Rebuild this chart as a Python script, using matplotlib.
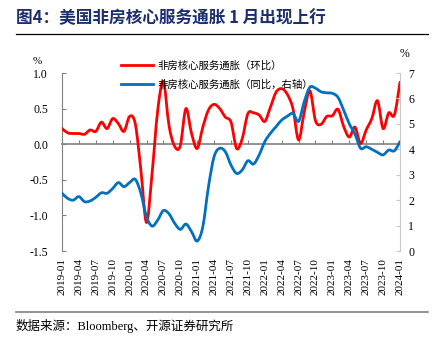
#!/usr/bin/env python3
"""US non-housing core services inflation: MoM (left) vs YoY (right)."""
import matplotlib
matplotlib.use("Agg")
import matplotlib.pyplot as plt
from matplotlib.path import Path
from matplotlib.patches import PathPatch
from matplotlib.lines import Line2D
import numpy as np
import pandas as pd

RED = "#ff0000"
BLUE = "#0070c0"
NAVY = "#1c2f6b"
CJK = ["Noto Sans CJK SC", "DejaVu Sans"]
SERIF = ["Liberation Serif", "Noto Sans CJK SC"]

months = pd.date_range("2019-01-01", "2024-01-01", freq="MS")
month_labels = [d.strftime("%Y-%m") for d in months]

# 环比, %
mom = [0.22, 0.16, 0.15, 0.15, 0.14, 0.20, 0.18, 0.31, 0.22, 0.36,
       0.29, 0.18, 0.39, 0.29, -0.36, -1.10, -0.40, 0.48, 0.88, 0.26,
       -0.03, -0.02, 0.50, 0.15, -0.06, 0.24, 0.48, 0.56, 0.50, 0.38,
       0.31, -0.06, 0.08, 0.43, 0.44, 0.41, 0.32, 0.52, 0.73, 0.78,
       0.70, 0.50, 0.06, 0.45, 0.75, 0.33, 0.28, 0.39, 0.40, 0.49,
       0.25, 0.10, 0.24, 0.01, 0.20, 0.36, 0.61, 0.22, 0.44, 0.41,
       0.87]

# 同比, %
yoy = [2.27, 2.07, 2.00, 2.14, 1.94, 1.97, 2.11, 2.29, 2.27, 2.46,
       2.69, 2.53, 2.69, 2.82, 2.27, 1.35, 0.98, 1.22, 1.59, 1.46,
       1.09, 0.85, 1.06, 0.76, 0.39, 0.96, 2.53, 3.71, 4.04, 3.90,
       3.38, 3.05, 3.19, 3.55, 3.42, 3.78, 4.30, 4.63, 4.89, 5.15,
       5.30, 5.41, 5.10, 5.87, 6.44, 6.40, 6.26, 6.22, 6.20, 6.04,
       5.54, 5.00, 4.60, 4.04, 4.10, 4.00, 3.88, 3.78, 3.97, 3.94,
       4.30]

plt.rcParams.update({"font.family": SERIF, "font.size": 8})


def smooth_path(xs, ys):
    """Cubic Bezier through every point (Catmull-Rom handles)."""
    pts = np.column_stack([xs, ys]).astype(float)
    n = len(pts)
    verts, codes = [pts[0]], [Path.MOVETO]
    for k in range(n - 1):
        p0, p1 = pts[max(k - 1, 0)], pts[k]
        p2, p3 = pts[k + 1], pts[min(k + 2, n - 1)]
        verts += [p1 + (p2 - p0) / 6, p2 - (p3 - p1) / 6, p2]
        codes += [Path.CURVE4] * 3
    return Path(verts, codes)


x = np.arange(len(months))

fig = plt.figure(figsize=(4.37, 3.39), dpi=100)
ax = fig.add_axes([62 / 437, 1 - 251 / 339, 338 / 437, 178 / 339])
ax2 = ax.twinx()

ax.add_patch(PathPatch(smooth_path(x, mom), fill=False, edgecolor=RED,
                       lw=2.0, capstyle="round", joinstyle="round", zorder=3))
ax2.add_patch(PathPatch(smooth_path(x, yoy), fill=False, edgecolor=BLUE,
                        lw=2.0, capstyle="round", joinstyle="round", zorder=3))

ax.set_xlim(0, 60)
ax.set_ylim(-1.5, 1.0)
ax2.set_ylim(0, 7)

ax.set_yticks(np.arange(-1.5, 1.01, 0.5))
ax.yaxis.set_major_formatter(plt.FuncFormatter(lambda v, _: f"{v:.1f}"))
ax2.set_yticks(range(0, 8))

# zero line carries the month ticks; labels sit below the plot
ticks = x[::3]
ax.spines["bottom"].set_position(("data", 0))
ax.spines["bottom"].set_color("#808080")
ax.spines["bottom"].set_linewidth(1.2)
ax.set_xticks(ticks)
ax.tick_params(axis="x", direction="in", length=3, color="#808080",
               labelbottom=False)
sec = ax.secondary_xaxis("bottom")
sec.set_xticks(ticks)
sec.set_xticklabels(month_labels[::3], rotation=90)
sec.tick_params(length=0, pad=5, labelsize=8)
sec.spines["bottom"].set_visible(False)

for s in ("top", "right"):
    ax.spines[s].set_visible(False)
ax.spines["left"].set_color("#808080")
ax.tick_params(axis="y", direction="in", length=3, color="#808080",
               pad=10, labelsize=8.5)
for s in ("top", "left", "bottom"):
    ax2.spines[s].set_visible(False)
ax2.spines["right"].set_color("#c8c8c8")
ax2.tick_params(axis="y", direction="in", length=3, color="#c8c8c8",
                pad=6, labelsize=8.5)

fig.text(33 / 437, 1 - 62 / 339, "%", fontsize=8, va="center")
fig.text(400 / 437, 1 - 54 / 339, "%", fontsize=8.5, va="center")

handles = [Line2D([0], [0], color=RED, lw=2.0),
           Line2D([0], [0], color=BLUE, lw=2.0)]
leg = ax.legend(handles, ["非房核心服务通胀（环比）", "非房核心服务通胀（同比，右轴）"],
                loc="upper left", bbox_to_anchor=(117 / 437, 1 - 56 / 339),
                bbox_transform=fig.transFigure, frameon=False,
                prop={"family": CJK, "size": 7.5}, handlelength=3.1,
                handletextpad=0.35, labelspacing=0.85, borderaxespad=0)
leg.set_zorder(5)

fig.text(16 / 437, 1 - 18 / 339, "图4：美国非房核心服务通胀 1 月出现上行",
         fontsize=12, fontweight="bold", color=NAVY, family=CJK, va="center")
fig.add_artist(Line2D([16 / 437, 428 / 437], [1 - 34 / 339] * 2,
                      color="black", lw=0.9))
fig.add_artist(Line2D([16 / 437, 428 / 437], [1 - 312 / 339] * 2,
                      color="#808080", lw=1.2))
fig.text(16 / 437, 1 - 326 / 339, "数据来源：Bloomberg、开源证券研究所",
         fontsize=9, family=SERIF, va="center")

fig.savefig("out.png", dpi=100)
